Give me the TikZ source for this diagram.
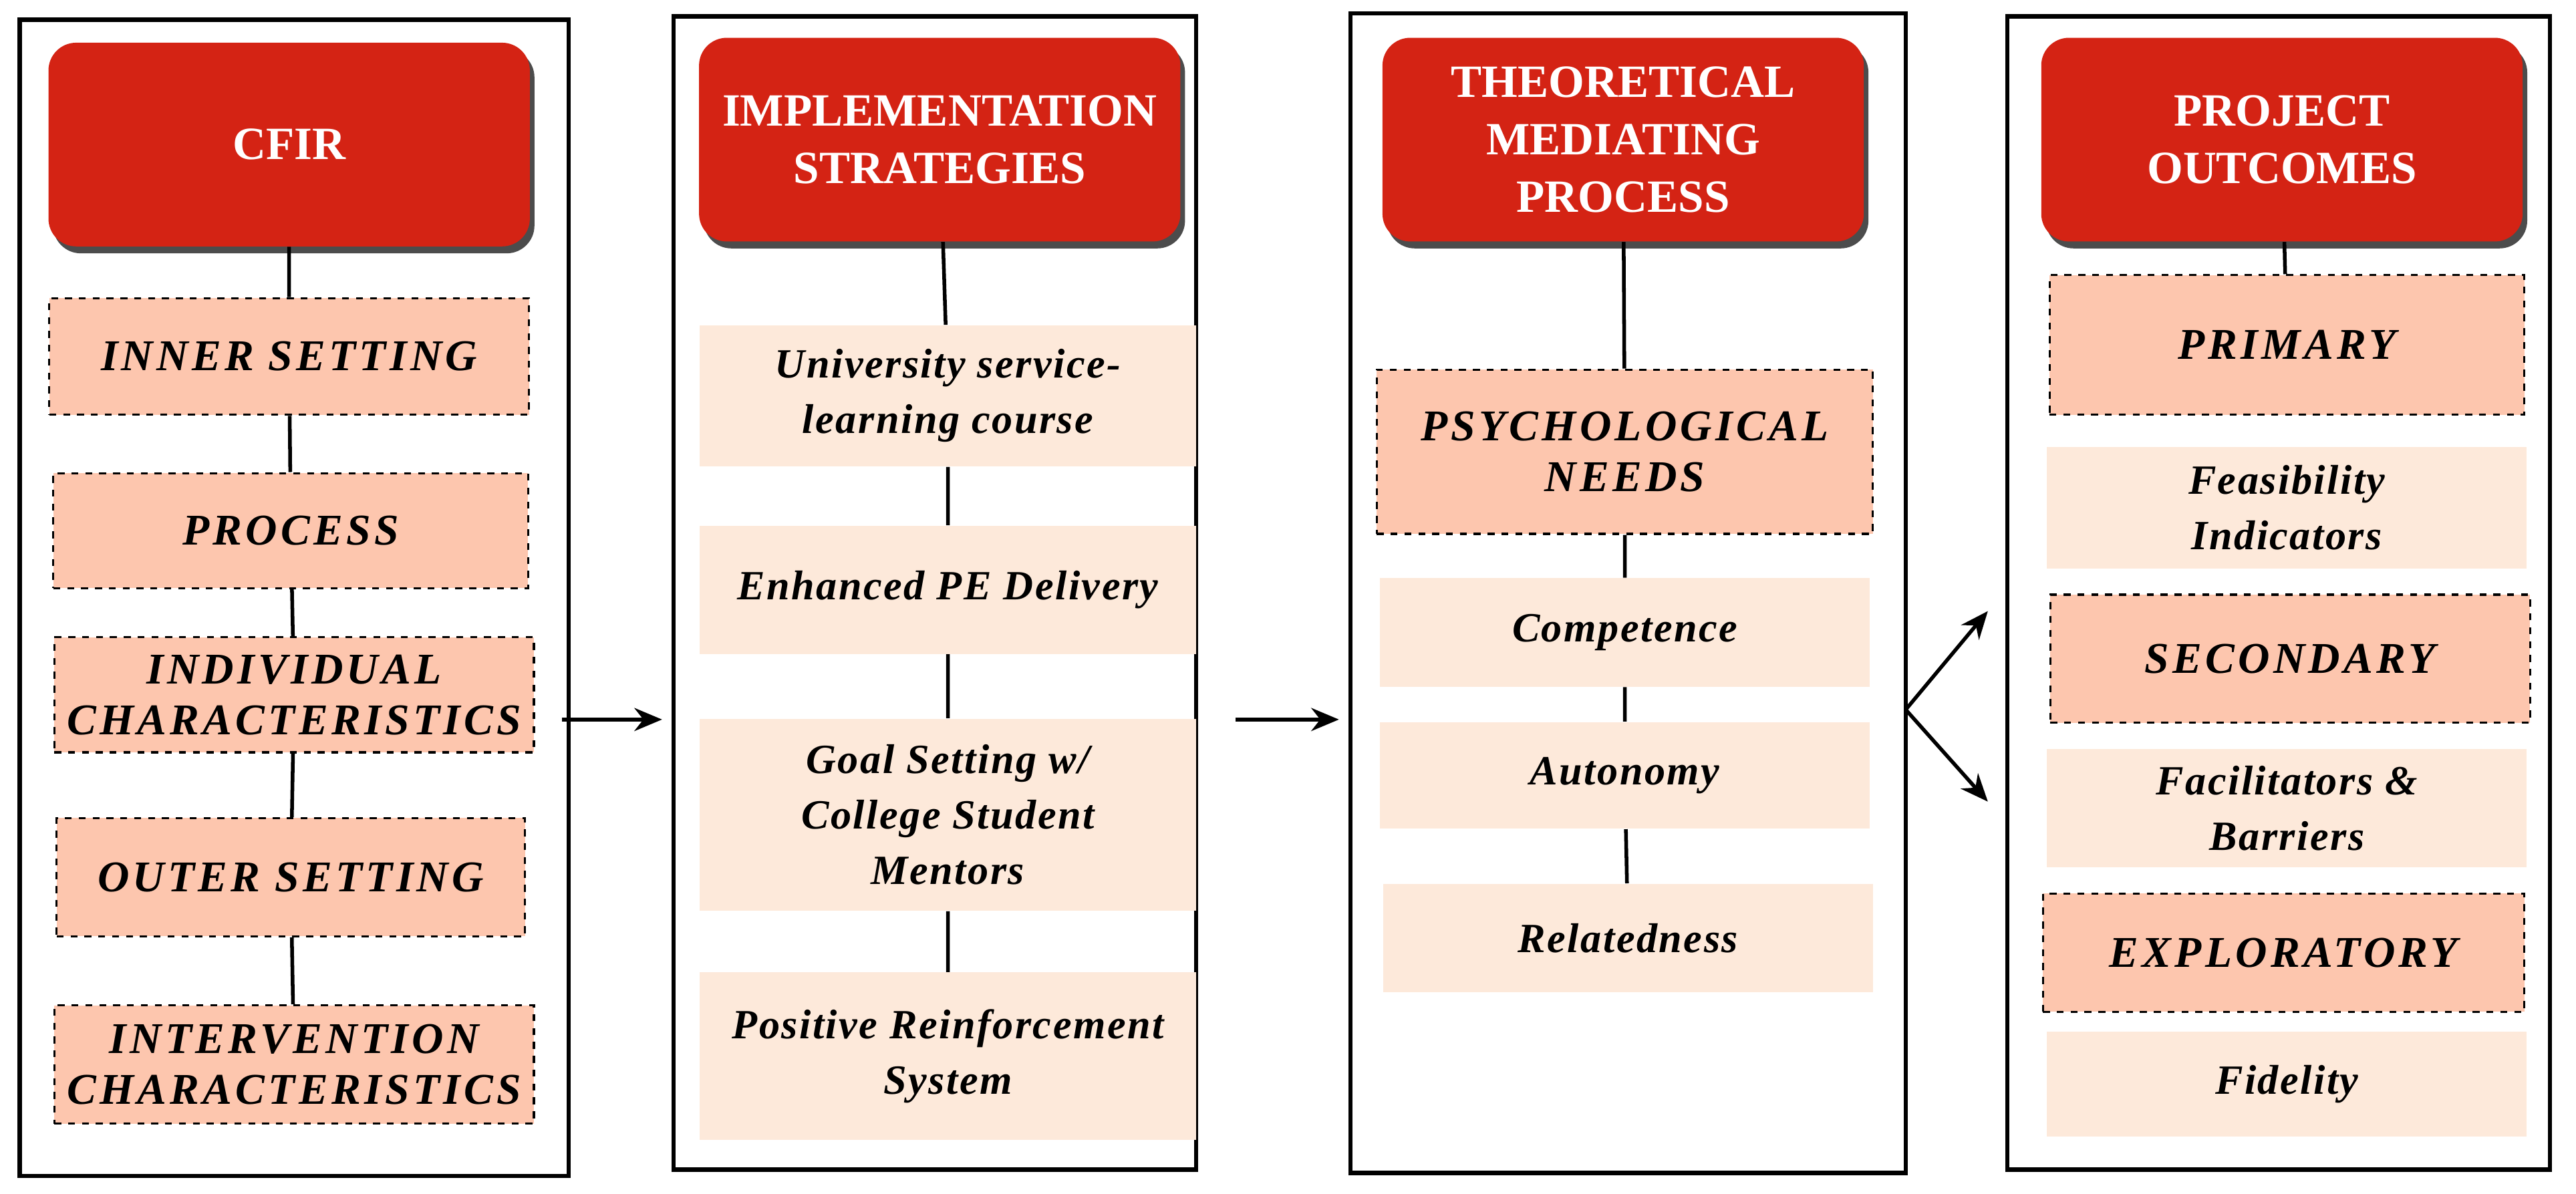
\documentclass[tikz,border=0pt]{standalone}
\usepackage{fontspec}
\setmainfont{Liberation Serif}
\usepackage{xcolor}
\usetikzlibrary{arrows.meta, positioning, shadows}

\definecolor{headred}{HTML}{D42314}
\definecolor{darksalmon}{HTML}{FDC6AE}
\definecolor{lightsalmon}{HTML}{FDE9DA}
\def\u{0.025cm}

\tikzset{
  panel/.style={draw, line width=1.8pt},
  head/.style={rectangle, rounded corners=12pt, fill=headred, text=white, align=center,
    font=\bfseries\fontsize{20}{25}\selectfont, minimum width=293*\u, minimum height=124*\u,
    drop shadow={fill=black!70, shadow xshift=2pt, shadow yshift=-3pt, opacity=1}},
  need/.style={rectangle, draw, dashed, line width=0.9pt, fill=darksalmon, align=center,
    font=\bfseries\itshape\addfontfeature{LetterSpace=8}\fontsize{19}{22}\selectfont},
  item/.style={rectangle, fill=lightsalmon, align=center,
    font=\bfseries\itshape\addfontfeature{LetterSpace=4}\fontsize{18}{24}\selectfont},
  link/.style={line width=1.6pt},
  flow/.style={-{Stealth[length=12pt,width=10pt]}, line width=1.6pt}
}

\begin{document}
\begin{tikzpicture}[x=0.025cm, y=-0.025cm]
    \useasboundingbox (0,0) rectangle (1568,726.5);
    % Panels
    \draw[panel] (12,12) rectangle (346,716);
    \draw[panel] (410,10) rectangle (728,712);
    \draw[panel] (822,8) rectangle (1160,714);
    \draw[panel] (1222,10) rectangle (1552,712);

    % CFIR column
    \node[head] (cfir) at (176,88) {CFIR};
    \node[need, minimum width=292*\u, minimum height=71*\u] (inner) at (176,217) {INNER SETTING};
    \node[need, minimum width=289*\u, minimum height=70*\u] (process) at (177,323) {PROCESS};
    \node[need, minimum width=292*\u, minimum height=70*\u] (indiv) at (179,423) {INDIVIDUAL\\CHARACTERISTICS};
    \node[need, minimum width=285*\u, minimum height=72*\u] (outer) at (177,534) {OUTER SETTING};
    \node[need, minimum width=292*\u, minimum height=72*\u] (interv) at (179,648) {INTERVENTION\\CHARACTERISTICS};

    % Strategies column
    \node[head] (strat) at (572,85) {IMPLEMENTATION\\STRATEGIES};
    \node[item, minimum width=302*\u, minimum height=86*\u] (course) at (577,241) {University service-\\learning course};
    \node[item, minimum width=302*\u, minimum height=78*\u] (deliv) at (577,359) {Enhanced PE Delivery};
    \node[item, minimum width=302*\u, minimum height=117*\u] (goal) at (577,496) {Goal Setting w/\\College Student\\Mentors};
    \node[item, minimum width=302*\u, minimum height=102*\u] (reinf) at (577,643) {Positive Reinforcement\\System};

    % Mediating column
    \node[head] (media) at (988,85) {THEORETICAL\\MEDIATING\\PROCESS};
    \node[need, minimum width=302*\u, minimum height=100*\u] (psych) at (989,275) {PSYCHOLOGICAL\\NEEDS};
    \node[item, minimum width=298*\u, minimum height=66*\u] (compet) at (989,385) {Competence};
    \node[item, minimum width=298*\u, minimum height=65*\u] (auton) at (989,472) {Autonomy};
    \node[item, minimum width=298*\u, minimum height=66*\u] (relat) at (991,571) {Relatedness};

    % Outcomes column
    \node[head] (outc) at (1389,85) {PROJECT\\OUTCOMES};
    \node[need, minimum width=289*\u, minimum height=85*\u] (prim) at (1392,210) {PRIMARY};
    \node[item, minimum width=292*\u, minimum height=74*\u] (feas) at (1392,309) {Feasibility\\Indicators};
    \node[need, minimum width=292*\u, minimum height=78*\u] (second) at (1394,401) {SECONDARY};
    \node[item, minimum width=292*\u, minimum height=72*\u] (facil) at (1392,492) {Facilitators \&\\Barriers};
    \node[need, minimum width=293*\u, minimum height=72*\u] (explor) at (1390,580) {EXPLORATORY};
    \node[item, minimum width=292*\u, minimum height=64*\u] (fidel) at (1392,660) {Fidelity};

    % Vertical links
    \draw[link] (cfir) -- (inner) -- (process) -- (indiv) -- (outer) -- (interv);
    \draw[link] (strat) -- (course) -- (deliv) -- (goal) -- (reinf);
    \draw[link] (media) -- (psych) -- (compet) -- (auton) -- (relat);
    \draw[link] (outc) -- (prim);

    % Flow between panels
    \coordinate (fork) at (1160,432);
    \coordinate (upper) at (1210,372);
    \coordinate (lower) at (1210,488);
    \draw[flow] (342,438) -- (403,438);
    \draw[flow] (752,438) -- (815,438);
    \draw[flow] (fork) -- (upper);
    \draw[flow] (fork) -- (lower);
\end{tikzpicture}
\end{document}
